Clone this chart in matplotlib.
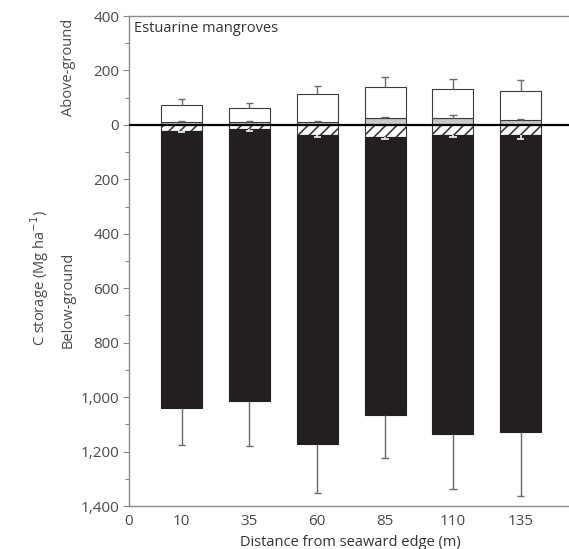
import matplotlib
matplotlib.use("Agg")
import matplotlib.pyplot as plt
import numpy as np
from matplotlib.ticker import MultipleLocator, FuncFormatter

plt.rcParams['font.family'] = ['Open Sans', 'DejaVu Sans']
plt.rcParams['hatch.linewidth'] = 1.2

distance = ["10", "35", "60", "85", "110", "135"]
# above-ground segments (Mg C ha-1)
above_grey = [9, 10, 12, 24, 27, 18]
above_grey_err = [5, 4, 3, 6, 10, 5]
above_white = [64, 53, 103, 117, 103, 107]
above_total_err = [21, 17, 29, 35, 40, 41]
# below-ground segments (Mg C ha-1)
below_hatched = [22, 16, 37, 43, 37, 37]
below_hatched_err = [5, 6, 9, 9, 6, 15]
below_black = [1017, 998, 1135, 1021, 1099, 1093]
below_total_err = [138, 164, 181, 159, 200, 234]

W, H = 569, 549
fig = plt.figure(figsize=(W / 100, H / 100), dpi=100)
ax = fig.add_axes([129 / W, 1 - 506 / H, 1 - 129 / W, (506 - 16) / H])

x = np.arange(1, len(distance) + 1)
bw = 0.605
grey = np.array(above_grey)
white = np.array(above_white)
hat = np.array(below_hatched)
blk = np.array(below_black)

edge = '#3a3a3a'
ax.bar(x, grey, bw, color='#c9c9c9', edgecolor=edge, linewidth=0.8, zorder=2)
ax.bar(x, white, bw, bottom=grey, color='white', edgecolor=edge, linewidth=0.8, zorder=2)
ax.bar(x, -hat, bw, color='white', edgecolor=edge, hatch='///', linewidth=0.8, zorder=2)
ax.bar(x, -blk, bw, bottom=-hat, color='#231f20', edgecolor='#231f20', linewidth=0.8, zorder=2)


def one_sided(start, end, color, cap=0.055, lw=1.0):
    ax.vlines(x, start, end, colors=color, lw=lw, zorder=3)
    ax.hlines(end, x - cap, x + cap, colors=color, lw=lw, zorder=3)


ecol = '#6a6a6a'
one_sided(grey + white, grey + white + np.array(above_total_err), ecol)
one_sided(grey, grey + np.array(above_grey_err), ecol)
one_sided(-(hat + blk), -(hat + blk) - np.array(below_total_err), ecol)
one_sided(-hat, -hat - np.array(below_hatched_err), '#e6e6e6', lw=1.3)

ax.axhline(0, color='black', lw=1.6, zorder=4)

x0 = 1 - 0.777
ax.set_xlim(x0, x0 + (W - 129) / 67.8)
ax.set_ylim(-1400, 400)

ax.set_xticks([x0] + list(x))
ax.set_xticklabels(["0"] + distance)
ax.tick_params(axis='x', length=0, pad=6, labelsize=11, labelcolor='#4a4a4a')

ax.yaxis.set_major_locator(MultipleLocator(200))
ax.yaxis.set_minor_locator(MultipleLocator(100))
ax.yaxis.set_major_formatter(FuncFormatter(lambda v, p: f"{abs(int(round(v))):,}"))
ax.tick_params(axis='y', which='major', direction='out', length=4, width=0.8,
               color='#888888', labelsize=11, labelcolor='#4a4a4a', pad=3)
ax.tick_params(axis='y', which='minor', direction='out', length=3, width=0.8, color='#888888')

for s in ['left', 'bottom', 'top']:
    ax.spines[s].set_color('#8a8a8a')
    ax.spines[s].set_linewidth(1.0)
ax.spines['right'].set_visible(False)

fig.text(134 / W, 1 - 29 / H, "Estuarine mangroves", fontsize=10.5, color='#333333',
         ha='left', va='center')

fig.text(68 / W, 1 - 67 / H, "Above-ground", rotation=90, fontsize=10.5,
         color='#4a4a4a', ha='center', va='center')
fig.text(68 / W, 1 - 300 / H, "Below-ground", rotation=90, fontsize=10.5,
         color='#4a4a4a', ha='center', va='center')
fig.text(40 / W, 1 - 278 / H, "C storage (Mg ha$^{-1}$)", rotation=90, fontsize=10.5,
         color='#4a4a4a', ha='center', va='center')
fig.text(350 / W, 1 - 543 / H, "Distance from seaward edge (m)", fontsize=10.5,
         color='#333333', ha='center', va='center')

fig.savefig("out.png", dpi=100)
